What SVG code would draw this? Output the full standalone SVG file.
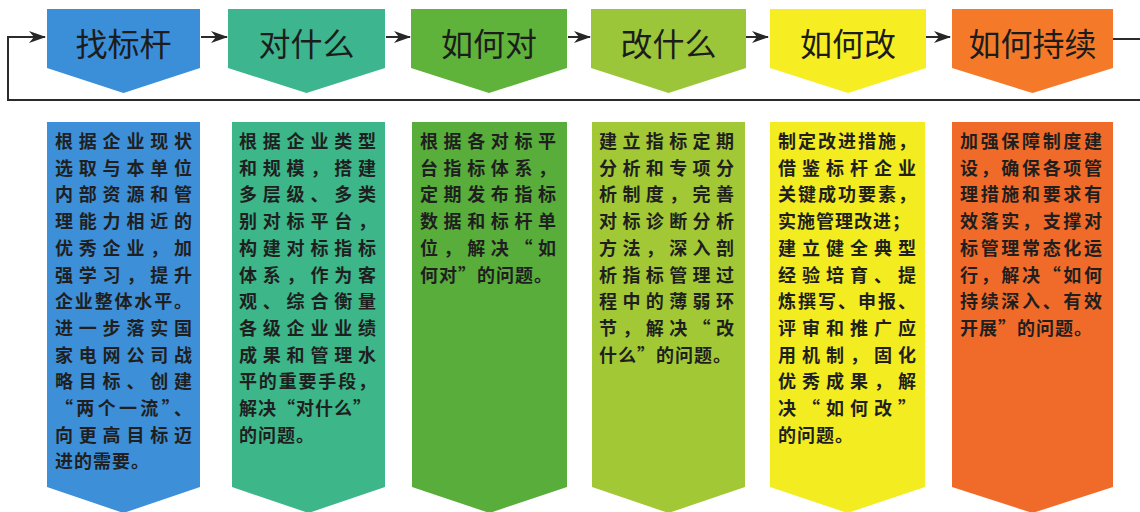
<svg xmlns="http://www.w3.org/2000/svg" width="1140" height="512" viewBox="0 0 1140 512">
<defs>
<marker id="ah" viewBox="0 0 17 12" refX="16" refY="6" markerWidth="17" markerHeight="12" markerUnits="userSpaceOnUse" orient="auto">
<path d="M0,0 L17,6 L0,12 L5,6 z" fill="#262626"/>
</marker>
<style>
.hd{font-family:"Noto Sans CJK SC","Noto Sans CJK JP",sans-serif;font-size:32px;fill:#1c1c1c;text-anchor:middle}
.bd{font-family:"Noto Sans CJK SC","Noto Sans CJK JP",sans-serif;font-size:18px;font-weight:bold;fill:#1f1f1f;letter-spacing:1px}
.ln{fill:none;stroke:#2b2b2b;stroke-width:2}
</style>
</defs>
<rect width="1140" height="512" fill="#ffffff"/>

<g id="connectors">
<path class="ln" d="M1140,100 H8 V37 H45" marker-end="url(#ah)"/>
<path class="ln" d="M201,37 H227" marker-end="url(#ah)"/>
<path class="ln" d="M386,37 H410" marker-end="url(#ah)"/>
<path class="ln" d="M568,37 H590" marker-end="url(#ah)"/>
<path class="ln" d="M746,37 H768" marker-end="url(#ah)"/>
<path class="ln" d="M926,37 H950" marker-end="url(#ah)"/>
<path class="ln" d="M1113,39 H1140"/>
</g>

<g id="node1">
<polygon points="47,9 200,9 200,68 123.5,93 47,68" fill="#3b8ed8"/>
<text class="hd" x="123.5" y="56">找标杆</text>
<polygon points="47,122 200,122 200,487 123.5,513 47,487" fill="#3d8fd8"/>
<text class="bd">
<tspan x="55" y="148" textLength="138">根据企业现状</tspan>
<tspan x="55" y="174.7" textLength="138">选取与本单位</tspan>
<tspan x="55" y="201.4" textLength="138">内部资源和管</tspan>
<tspan x="55" y="228.1" textLength="138">理能力相近的</tspan>
<tspan x="55" y="254.8" textLength="138">优秀企业，加</tspan>
<tspan x="55" y="281.5" textLength="138">强学习，提升</tspan>
<tspan x="55" y="308.2" textLength="138">企业整体水平。</tspan>
<tspan x="55" y="334.9" textLength="138">进一步落实国</tspan>
<tspan x="55" y="361.6" textLength="138">家电网公司战</tspan>
<tspan x="55" y="388.3" textLength="138">略目标、创建</tspan>
<tspan x="55" y="415" textLength="138">“两个一流”、</tspan>
<tspan x="55" y="441.7" textLength="138">向更高目标迈</tspan>
<tspan x="55" y="468.4">进的需要。</tspan>
</text>
</g>

<g id="node2">
<polygon points="228,9 385,9 385,68 306.5,93 228,68" fill="#3db58e"/>
<text class="hd" x="306.5" y="56">对什么</text>
<polygon points="232,122 385,122 385,487 308.5,513 232,487" fill="#3db689"/>
<text class="bd">
<tspan x="239" y="148" textLength="138">根据企业类型</tspan>
<tspan x="239" y="174.7" textLength="138">和规模，搭建</tspan>
<tspan x="239" y="201.4" textLength="138">多层级、多类</tspan>
<tspan x="239" y="228.1" textLength="138">别对标平台，</tspan>
<tspan x="239" y="254.8" textLength="138">构建对标指标</tspan>
<tspan x="239" y="281.5" textLength="138">体系，作为客</tspan>
<tspan x="239" y="308.2" textLength="138">观、综合衡量</tspan>
<tspan x="239" y="334.9" textLength="138">各级企业业绩</tspan>
<tspan x="239" y="361.6" textLength="138">成果和管理水</tspan>
<tspan x="239" y="388.3" textLength="138">平的重要手段，</tspan>
<tspan x="239" y="415">解决“对什么”</tspan>
<tspan x="239" y="441.7">的问题。</tspan>
</text>
</g>

<g id="node3">
<polygon points="411,9 567,9 567,68 489,93 411,68" fill="#5fb33a"/>
<text class="hd" x="489" y="56">如何对</text>
<polygon points="412,122 567,122 567,487 489.5,513 412,487" fill="#58ad3b"/>
<text class="bd">
<tspan x="420" y="148" textLength="137">根据各对标平</tspan>
<tspan x="420" y="174.7" textLength="137">台指标体系，</tspan>
<tspan x="420" y="201.4" textLength="137">定期发布指标</tspan>
<tspan x="420" y="228.1" textLength="137">数据和标杆单</tspan>
<tspan x="420" y="254.8" textLength="137">位，解决“如</tspan>
<tspan x="420" y="281.5">何对”的问题。</tspan>
</text>
</g>

<g id="node4">
<polygon points="591,9 746,9 746,68 668.5,93 591,68" fill="#9cc63a"/>
<text class="hd" x="668.5" y="56">改什么</text>
<polygon points="592,122 745,122 745,487 668.5,513 592,487" fill="#a2c935"/>
<text class="bd">
<tspan x="599" y="148" textLength="136">建立指标定期</tspan>
<tspan x="599" y="174.7" textLength="136">分析和专项分</tspan>
<tspan x="599" y="201.4" textLength="136">析制度，完善</tspan>
<tspan x="599" y="228.1" textLength="136">对标诊断分析</tspan>
<tspan x="599" y="254.8" textLength="136">方法，深入剖</tspan>
<tspan x="599" y="281.5" textLength="136">析指标管理过</tspan>
<tspan x="599" y="308.2" textLength="136">程中的薄弱环</tspan>
<tspan x="599" y="334.9" textLength="136">节，解决“改</tspan>
<tspan x="599" y="361.6">什么”的问题。</tspan>
</text>
</g>

<g id="node5">
<polygon points="770,9 926,9 926,68 848,93 770,68" fill="#f6ee22"/>
<text class="hd" x="848" y="56">如何改</text>
<polygon points="770,122 925,122 925,487 847.5,513 770,487" fill="#f3ec20"/>
<text class="bd">
<tspan x="778" y="148" textLength="139">制定改进措施，</tspan>
<tspan x="778" y="174.7" textLength="139">借鉴标杆企业</tspan>
<tspan x="778" y="201.4" textLength="139">关键成功要素，</tspan>
<tspan x="778" y="228.1">实施管理改进；</tspan>
<tspan x="778" y="254.8" textLength="139">建立健全典型</tspan>
<tspan x="778" y="281.5" textLength="139">经验培育、提</tspan>
<tspan x="778" y="308.2" textLength="139">炼撰写、申报、</tspan>
<tspan x="778" y="334.9" textLength="139">评审和推广应</tspan>
<tspan x="778" y="361.6" textLength="139">用机制，固化</tspan>
<tspan x="778" y="388.3" textLength="139">优秀成果，解</tspan>
<tspan x="778" y="415" textLength="139">决“如何改”</tspan>
<tspan x="778" y="441.7">的问题。</tspan>
</text>
</g>

<g id="node6">
<polygon points="952,9 1113,9 1113,68 1032.5,93 952,68" fill="#f47a2a"/>
<text class="hd" x="1032.5" y="56">如何持续</text>
<polygon points="952,122 1113,122 1113,487 1032.5,513 952,487" fill="#f06b29"/>
<text class="bd">
<tspan x="960" y="148" textLength="143">加强保障制度建</tspan>
<tspan x="960" y="174.7" textLength="143">设，确保各项管</tspan>
<tspan x="960" y="201.4" textLength="143">理措施和要求有</tspan>
<tspan x="960" y="228.1" textLength="143">效落实，支撑对</tspan>
<tspan x="960" y="254.8" textLength="143">标管理常态化运</tspan>
<tspan x="960" y="281.5" textLength="143">行，解决“如何</tspan>
<tspan x="960" y="308.2" textLength="143">持续深入、有效</tspan>
<tspan x="960" y="334.9">开展”的问题。</tspan>
</text>
</g>
</svg>
